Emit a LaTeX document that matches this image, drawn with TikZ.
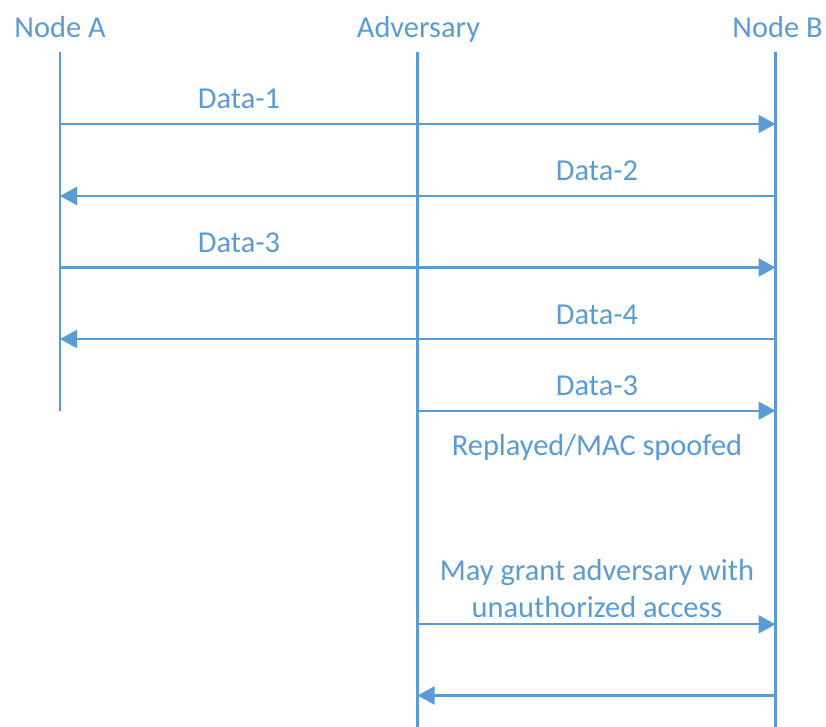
\documentclass[tikz,border=0pt]{standalone}
\usepackage{fontspec}
\setmainfont{Carlito}
\usetikzlibrary{arrows.meta}
\definecolor{seqblue}{HTML}{5B9BD5}
\tikzset{
  lifeline/.style={draw=seqblue, line width=2.2pt},
  msg/.style={draw=seqblue, line width=2.2pt, -{Triangle[length=17pt,width=18pt]}},
  lbl/.style={text=seqblue, font=\fontsize{30.4}{36.6}\selectfont, anchor=base, inner sep=0pt, align=center},
}
\begin{document}
\begin{tikzpicture}[x=1pt,y=-1pt]
  \useasboundingbox (0,0) rectangle (826,727);

  % participant headers
  \node[lbl] (hA) at (60,37.7) {Node A};
  \node[lbl] (hE) at (418.5,37.7) {Adversary};
  \node[lbl] (hB) at (777.5,37.7) {Node B};

  % lifeline ends
  \coordinate (At) at (60,52);    \coordinate (Ab) at (60,411);
  \coordinate (Et) at (417.5,52); \coordinate (Eb) at (417.5,727);
  \coordinate (Bt) at (775.5,52); \coordinate (Bb) at (775.5,727);
  \draw[lifeline] (At) -- (Ab);
  \draw[lifeline] (Et) -- (Eb);
  \draw[lifeline] (Bt) -- (Bb);

  % message anchor points on the lifelines
  \coordinate (A1) at (60,124);    \coordinate (B1) at (775.5,124);
  \coordinate (A2) at (60,196);    \coordinate (B2) at (775.5,196);
  \coordinate (A3) at (60,267.5);  \coordinate (B3) at (775.5,267.5);
  \coordinate (A4) at (60,339);    \coordinate (B4) at (775.5,339);
  \coordinate (E5) at (417.5,410.7); \coordinate (B5) at (775.5,410.7);
  \coordinate (E6) at (417.5,624.3); \coordinate (B6) at (775.5,624.3);
  \coordinate (E7) at (417.5,695.5); \coordinate (B7) at (775.5,695.5);

  % messages
  \draw[msg] (A1) -- (B1);
  \draw[msg] (B2) -- (A2);
  \draw[msg] (A3) -- (B3);
  \draw[msg] (B4) -- (A4);
  \draw[msg] (E5) -- (B5);
  \draw[msg] (E6) -- (B6);
  \draw[msg] (B7) -- (E7);

  % message labels
  \node[lbl] (l1) at (239,109) {Data-1};
  \node[lbl] (l2) at (597,181) {Data-2};
  \node[lbl] (l3) at (239,252.5) {Data-3};
  \node[lbl] (l4) at (597,324) {Data-4};
  \node[lbl] (l5) at (597,395.7) {Data-3};
  \node[lbl] (l5b) at (597,455) {Replayed/MAC spoofed};
  \node[lbl] (l6a) at (597,580.7) {May grant adversary with};
  \node[lbl] (l6b) at (597,617.3) {unauthorized access};
\end{tikzpicture}
\end{document}
